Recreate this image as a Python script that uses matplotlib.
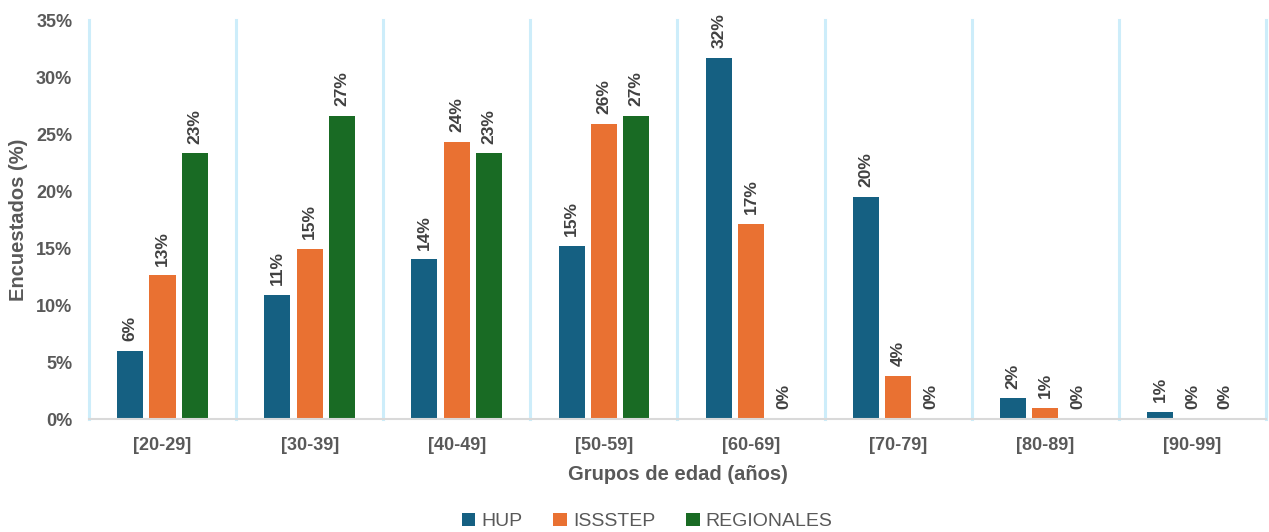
import matplotlib.pyplot as plt
import numpy as np

plt.rcParams['font.family'] = ['Liberation Sans', 'DejaVu Sans']

grupos = ["[20-29]", "[30-39]", "[40-49]", "[50-59]", "[60-69]", "[70-79]", "[80-89]", "[90-99]"]
hup = [6.0, 10.9, 14.0, 15.2, 31.7, 19.5, 1.8, 0.6]
issstep = [12.6, 14.9, 24.3, 25.9, 17.1, 3.8, 1.0, 0.0]
regionales = [23.3, 26.6, 23.3, 26.6, 0.0, 0.0, 0.0, 0.0]

series = [("HUP", hup, "#156082"), ("ISSSTEP", issstep, "#E97132"), ("REGIONALES", regionales, "#196B24")]

fig = plt.figure(figsize=(12.69, 5.32), dpi=100)
ax = fig.add_axes([0.0701, 0.2124, 0.9275, 0.75])

x = np.arange(len(grupos))
pitch = 0.22
w = 0.177
for i, (name, vals, col) in enumerate(series):
    pos = x + (i - 1) * pitch
    ax.bar(pos, vals, w, color=col, label=name, zorder=2)
    for px, v in zip(pos, vals):
        ax.annotate(f"{v:.0f}%", (px, v), xytext=(0, 7), textcoords="offset points",
                    rotation=90, ha="center", va="bottom", fontsize=12.5,
                    fontweight="bold", color="#404040")

# separadores verticales entre grupos
for b in np.arange(-0.5, len(grupos), 1):
    ax.axvline(b, color="#CDEDFA", lw=2.2, zorder=0, clip_on=False)

ax.set_xlim(-0.5, len(grupos) - 0.5)
ax.set_ylim(0, 35)
ax.set_yticks(range(0, 36, 5))
ax.set_yticklabels([f"{t}%" for t in range(0, 36, 5)])
ax.set_xticks(x)
ax.set_xticklabels(grupos)

for s in ["top", "right", "left"]:
    ax.spines[s].set_visible(False)
ax.spines["bottom"].set_color("#D9D9D9")
ax.spines["bottom"].set_linewidth(1.5)
ax.spines["bottom"].set_zorder(3)

ax.tick_params(axis="both", length=0, labelsize=13, labelcolor="#595959")
ax.tick_params(axis="y", pad=12)
ax.tick_params(axis="x", pad=13)
for lab in ax.get_xticklabels() + ax.get_yticklabels():
    lab.set_fontweight("bold")

ax.set_xlabel("Grupos de edad (años)", fontsize=14.5, fontweight="bold", color="#595959", labelpad=8)
ax.set_ylabel("Encuestados (%)", fontsize=14.5, fontweight="bold", color="#595959", labelpad=6)

fig.legend(loc="lower center", bbox_to_anchor=(0.51, -0.03), ncol=3, frameon=False,
           handlelength=0.7, handleheight=0.7, handletextpad=0.3, columnspacing=1.6,
           prop={"size": 14}, labelcolor="#595959")

fig.savefig("out.png", dpi=100)
